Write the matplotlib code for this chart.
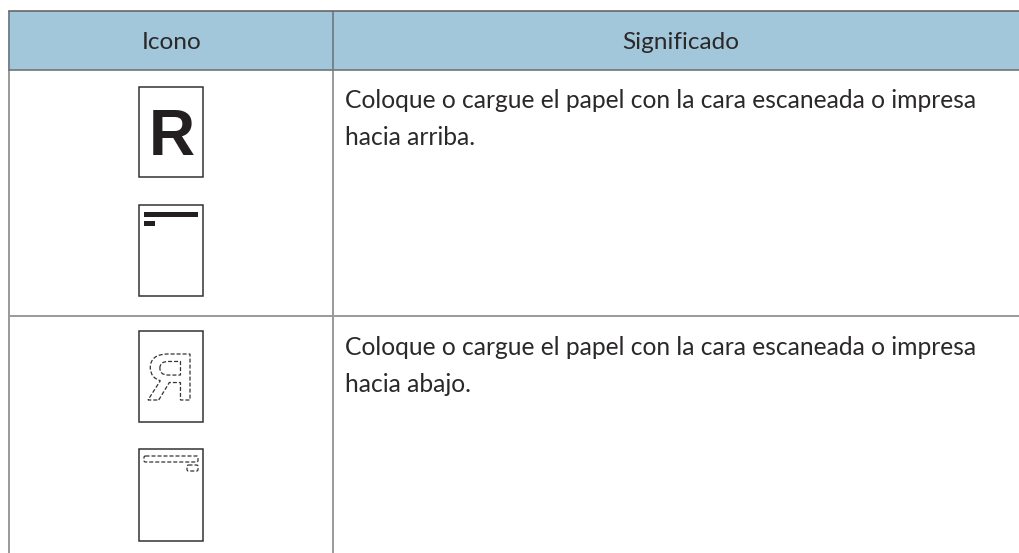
import matplotlib.pyplot as plt
from matplotlib.patches import Rectangle, FancyBboxPatch, PathPatch
from matplotlib.textpath import TextPath
from matplotlib.font_manager import FontProperties
from matplotlib.transforms import Affine2D

headers = ['Icono', 'Significado']
row1_text = ['Coloque o cargue el papel con la cara escaneada o impresa', 'hacia arriba.']
row2_text = ['Coloque o cargue el papel con la cara escaneada o impresa', 'hacia abajo.']
col_edges = [9, 333]
row_edges = [10.5, 70, 316, 553]
page_boxes = [(139, 87, 203, 177), (139, 205, 203, 296), (139, 331, 203, 422), (139, 449, 203, 541)]

plt.rcParams['font.family'] = ['Lato', 'DejaVu Sans']
fig = plt.figure(figsize=(10.19, 5.53), dpi=100)
ax = fig.add_axes([0, 0, 1, 1])
ax.set_xlim(0, 1019)
ax.set_ylim(553, 0)
ax.axis('off')

ink = '#2b2829'
dash = (0, (3.2, 1.6))

# header band
ax.add_patch(Rectangle((col_edges[0], row_edges[0]), 1019 - col_edges[0], row_edges[1] - row_edges[0],
                       fc='#a2c7da', ec='none'))

# grid
for x in col_edges:
    ax.plot([x, x], [row_edges[1], row_edges[3]], color='#999999', lw=1.4, solid_capstyle='butt')
    ax.plot([x, x], [row_edges[0], row_edges[1]], color='#74838c', lw=1.4, solid_capstyle='butt')
ax.plot([col_edges[0], 1019], [row_edges[0]] * 2, color='#666666', lw=1.2)
ax.plot([col_edges[0], 1019], [row_edges[1]] * 2, color='#6f767a', lw=1.2)
ax.plot([col_edges[0], 1019], [row_edges[2]] * 2, color='#999999', lw=1.4)

ax.text(171.5, 49, headers[0], ha='center', va='baseline', fontsize=17.6, color=ink)
ax.text(681, 49, headers[1], ha='center', va='baseline', fontsize=17.6, color=ink)

for y, txt in zip([108, 145], row1_text):
    ax.text(345, y, txt, ha='left', va='baseline', fontsize=17.7, color=ink)
for y, txt in zip([355, 392], row2_text):
    ax.text(345, y, txt, ha='left', va='baseline', fontsize=17.7, color=ink)

# paper icons
for x0, y0, x1, y1 in page_boxes:
    ax.add_patch(Rectangle((x0, y0), x1 - x0, y1 - y0, fc='white', ec='#333333', lw=1.1, zorder=3))

ax.text(172, 155, 'R', ha='center', va='baseline', fontsize=46, fontweight='bold', family='Liberation Sans',
        color='#231f20', zorder=4)

ax.add_patch(Rectangle((144, 212), 54, 5, fc='#231f20', ec='none', zorder=4))
ax.add_patch(Rectangle((144, 221), 11, 5, fc='#231f20', ec='none', zorder=4))

# mirrored dashed R, y flipped because the axis runs downwards
tp = TextPath((0, 0), 'R', size=64, prop=FontProperties(family='Liberation Sans', weight='bold'))
ext = tp.get_extents()
sx = 42 / ext.width
sy = 46 / ext.height
flip = Affine2D().translate(-ext.x0, -ext.y0).scale(-sx, -sy).translate(190, 400)
ax.add_patch(PathPatch(flip.transform_path(tp), fc='none', ec='#333333', lw=0.9, ls=dash, zorder=4))

for x, y, w, h in [(144, 456, 54, 6), (187, 465, 11, 6)]:
    ax.add_patch(FancyBboxPatch((x, y), w, h, boxstyle='round,pad=0,rounding_size=1.5',
                                fc='none', ec='#333333', lw=0.9, ls=dash, zorder=4))

fig.savefig('out.png', dpi=100)
